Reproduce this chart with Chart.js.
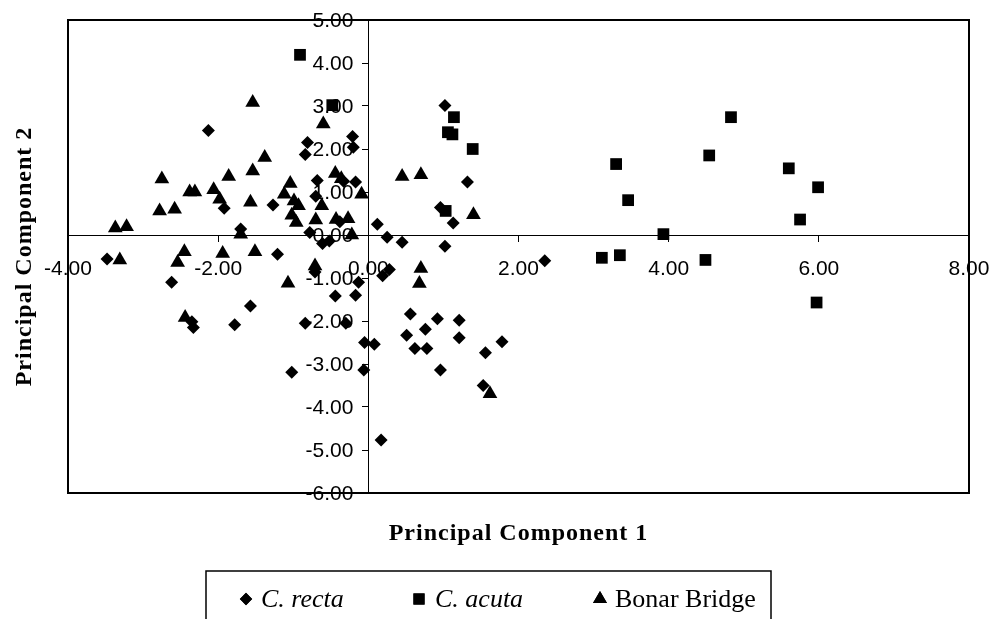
<!DOCTYPE html>
<html>
<head>
<meta charset="utf-8">
<script src="https://cdn.jsdelivr.net/npm/chart.js@4.4.0/dist/chart.umd.min.js"></script>
<style>
  html, body { margin: 0; padding: 0; background: #fff; }
  #wrap { width: 995px; height: 619px; position: relative; }
</style>
</head>
<body>
<div id="wrap"><canvas id="pca" width="995" height="619"></canvas></div>
<script>
// 시리즈 데이터 (PC1, PC2)
const rectaX = [-2.13, -0.81, -0.84, -0.21, -0.20, -0.68, -0.17, -0.33, -1.92, -1.27, -0.70, -0.78, -1.70, 0.12,
                -0.61, -0.52, -0.38, -3.48, -2.62, -2.35, -2.33, -1.78, -1.57, -1.21, -0.71, -0.13, -0.44, -0.17,
                -0.84, -0.30, -1.02, -0.05, 0.08, -0.06, 0.17, 0.25, 0.45, 1.02, 1.13, 2.35, 0.28, 0.19, 0.56,
                0.51, 0.62, 0.76, 0.78, 0.92, 0.96, 1.21, 1.21, 1.56, 1.78, 1.53, 1.02, 1.32, 0.96];
const rectaY = [2.43, 2.15, 1.87, 2.29, 2.04, 1.27, 1.23, 1.25, 0.62, 0.70, 0.90, 0.06, 0.14, 0.25,
                -0.20, -0.14, 0.31, -0.56, -1.10, -2.02, -2.15, -2.09, -1.65, -0.45, -0.86, -1.10, -1.42, -1.40,
                -2.05, -2.05, -3.19, -2.50, -2.54, -3.14, -4.77, -0.05, -0.17, -0.26, 0.28, -0.60, -0.80, -0.95, -1.84,
                -2.33, -2.64, -2.19, -2.64, -1.95, -3.14, -1.98, -2.39, -2.74, -2.48, -3.50, 3.01, 1.23, 0.64];

const acutaX = [-0.91, -0.48, 1.14, 1.06, 1.12, 1.39, 1.03, 3.30, 3.46, 3.93, 3.11, 3.35, 4.83, 4.54, 5.60, 5.99, 5.75, 4.49, 5.97];
const acutaY = [4.19, 3.02, 2.74, 2.39, 2.34, 2.00, 0.56, 1.65, 0.81, 0.02, -0.53, -0.47, 2.74, 1.85, 1.55, 1.11, 0.36, -0.58, -1.57];

const bonarX = [-1.54, -0.60, -1.38, -1.54, -1.86, -2.75, -2.38, -2.31, -2.06, -1.98, -2.78, -2.58, -1.57, -1.04, -1.12,
                -0.99, -0.93, -1.02, -0.96, -0.62, -0.70, -0.44, -0.36, -0.09, -0.27, -0.43, -0.22, -3.37, -3.22,
                -1.70, -3.31, -2.45, -2.54, -1.94, -1.51, -1.07, -2.44, -0.71, 0.45, 0.70, 1.40, 0.70, 0.68, 1.62];
const bonarY = [3.08, 2.58, 1.80, 1.49, 1.36, 1.30, 1.00, 1.00, 1.05, 0.83, 0.56, 0.60, 0.76, 1.20, 0.95,
                0.79, 0.68, 0.46, 0.29, 0.68, 0.35, 1.43, 1.31, 0.95, 0.38, 0.36, 0.00, 0.16, 0.19,
                0.02, -0.58, -0.39, -0.64, -0.43, -0.39, -1.12, -1.92, -0.72, 1.36, 1.40, 0.47, -0.78, -1.13, -3.69];

const xMin = -4, xMax = 8, xStep = 2;
const yMin = -6, yMax = 5, yStep = 1;

const seriesNames = ["C. recta", "C. acuta", "Bonar Bridge"];
const xTitle = "Principal Component 1";
const yTitle = "Principal Component 2";

function toPoints(xs, ys) {
    let pts = [];
    for (let i = 0; i < xs.length; i++) pts.push({x: xs[i], y: ys[i]});
    return pts;
}

const tickFont = {family: "'Liberation Sans', Arial, sans-serif", size: 21};

// 눈금 글자: 축이 원점에서 교차하므로 직접 배치 (점보다 먼저 그림)
const axisLabels = {
    id: 'axisLabels',
    beforeDatasetsDraw(chart) {
        const ctx = chart.ctx;
        const xs = chart.scales.x, ys = chart.scales.y;
        const axisX = xs.getPixelForValue(0);
        const axisY = ys.getPixelForValue(0);
        ctx.save();
        ctx.fillStyle = '#000';
        ctx.font = tickFont.size + 'px ' + tickFont.family;
        ctx.textBaseline = 'middle';
        ctx.textAlign = 'right';
        ys.ticks.forEach(t => {
            ctx.fillText(t.value.toFixed(2), axisX - 15, ys.getPixelForValue(t.value) + 1);
        });
        ctx.textAlign = 'center';
        xs.ticks.forEach(t => {
            ctx.fillText(t.value.toFixed(2), xs.getPixelForValue(t.value), axisY + 34);
        });
        ctx.restore();
    }
};

// 플롯 테두리 + 축 제목 + 범례
const frame = {
    id: 'frame',
    afterDraw(chart) {
        const ctx = chart.ctx;
        const a = chart.chartArea;
        ctx.save();
        ctx.strokeStyle = '#000';
        ctx.lineWidth = 2;
        ctx.strokeRect(a.left, a.top, a.right - a.left, a.bottom - a.top);

        ctx.fillStyle = '#000';
        ctx.font = "bold 24px 'Liberation Serif', 'Times New Roman', serif";
        ctx.letterSpacing = '1px';
        ctx.textAlign = 'center';
        ctx.textBaseline = 'middle';
        ctx.fillText(xTitle, (a.left + a.right) / 2, 534);
        ctx.save();
        ctx.translate(25, (a.top + a.bottom) / 2);
        ctx.rotate(-Math.PI / 2);
        ctx.fillText(yTitle, 0, 0);
        ctx.restore();
        ctx.letterSpacing = '0px';

        // 범례 박스
        ctx.lineWidth = 1.5;
        ctx.strokeRect(206, 571, 565, 60);
        const items = [
            {x: 246, tx: 261, italic: true},
            {x: 419, tx: 435, italic: true},
            {x: 600, tx: 615, italic: false}
        ];
        ctx.textAlign = 'left';
        for (let i = 0; i < items.length; i++) {
            const ds = chart.data.datasets[i];
            ctx.fillStyle = '#000';
            Chart.helpers.drawPoint(ctx, {
                pointStyle: ds.pointStyle, rotation: 0, radius: ds.pointRadius * 0.95, borderWidth: 0
            }, items[i].x, 599);
            ctx.fill();
            ctx.font = (items[i].italic ? 'italic ' : '') + "26px 'Liberation Serif', 'Times New Roman', serif";
            ctx.fillText(seriesNames[i], items[i].tx, 600);
        }
        ctx.restore();
    }
};

new Chart(document.getElementById('pca'), {
    type: 'scatter',
    data: {
        datasets: [
            {label: seriesNames[0], data: toPoints(rectaX, rectaY), pointStyle: 'rectRot', pointRadius: 6.5,
             backgroundColor: '#000', borderColor: '#000', borderWidth: 0},
            {label: seriesNames[1], data: toPoints(acutaX, acutaY), pointStyle: 'rect', pointRadius: 8.3,
             backgroundColor: '#000', borderColor: '#000', borderWidth: 0},
            {label: seriesNames[2], data: toPoints(bonarX, bonarY), pointStyle: 'triangle', pointRadius: 8.5,
             backgroundColor: '#000', borderColor: '#000', borderWidth: 0}
        ]
    },
    options: {
        responsive: false,
        animation: false,
        devicePixelRatio: 1,
        layout: {padding: {left: 68, right: 26, top: 20, bottom: 126}},
        plugins: {legend: {display: false}, tooltip: {enabled: false}},
        elements: {point: {hoverRadius: 0}},
        scales: {
            x: {
                type: 'linear', min: xMin, max: xMax,
                position: {y: 0},
                grid: {drawOnChartArea: false, drawTicks: true, tickLength: 6, color: '#000'},
                border: {display: true, color: '#000', width: 1},
                ticks: {display: false, stepSize: xStep}
            },
            y: {
                type: 'linear', min: yMin, max: yMax,
                position: {x: 0},
                grid: {drawOnChartArea: false, drawTicks: true, tickLength: 6, color: '#000'},
                border: {display: true, color: '#000', width: 1},
                ticks: {display: false, stepSize: yStep}
            }
        }
    },
    plugins: [axisLabels, frame]
});
</script>
</body>
</html>
